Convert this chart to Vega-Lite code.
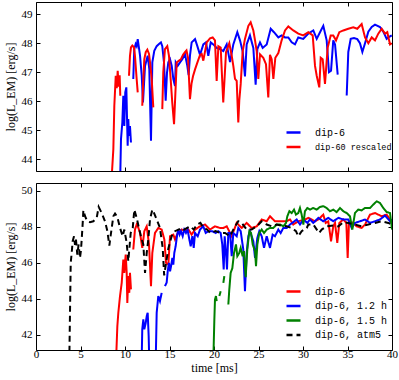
{
"$schema": "https://vega.github.io/schema/vega-lite/v6.json",
"padding": {"left": 3, "top": 1, "right": 1, "bottom": 1},
"config": {
 "font": "Liberation Serif",
 "view": {"stroke": "black", "strokeWidth": 1},
 "axis": {"grid": false, "domain": false, "tickColor": "black", "tickSize": -4, "tickWidth": 1, "labelFont": "Liberation Serif", "labelFontSize": 11, "labelColor": "black", "titleFont": "Liberation Serif", "titleFontSize": 12, "titleFontWeight": "normal", "titleColor": "black", "labelFlush": false, "labelOverlap": false},
 "legend": {"symbolType": "stroke", "symbolSize": 196, "symbolStrokeWidth": 2.5, "labelFont": "Liberation Mono", "labelFontSize": 10, "labelColor": "black", "labelOffset": 13, "rowPadding": 0.5, "padding": 0}
},
"datasets": {
"top": [
{"t":9.44,"v":43.0,"s":"dip-6","g":"b1"},{"t":9.55,"v":44.7,"s":"dip-6","g":"b1"},{"t":9.70,"v":45.27,"s":"dip-6","g":"b1"},{"t":9.81,"v":46.19,"s":"dip-6","g":"b1"},{"t":9.92,"v":45.15,"s":"dip-6","g":"b1"},{"t":10.03,"v":46.31,"s":"dip-6","g":"b1"},{"t":10.15,"v":46.48,"s":"dip-6","g":"b1"},{"t":10.22,"v":45.5,"s":"dip-6","g":"b1"},{"t":10.30,"v":44.47,"s":"dip-6","g":"b1"},{"t":10.37,"v":45.39,"s":"dip-6","g":"b1"},{"t":10.45,"v":44.81,"s":"dip-6","g":"b1"},{"t":10.56,"v":45.15,"s":"dip-6","g":"b1"},{"t":10.67,"v":44.58,"s":"dip-6","g":"b1"},
{"t":10.93,"v":46.77,"s":"dip-6","g":"b2"},{"t":11.04,"v":47.8,"s":"dip-6","g":"b2"},{"t":11.20,"v":47.97,"s":"dip-6","g":"b2"},{"t":11.31,"v":47.9,"s":"dip-6","g":"b2"},{"t":11.43,"v":48.14,"s":"dip-6","g":"b2"},{"t":11.54,"v":47.9,"s":"dip-6","g":"b2"},{"t":11.69,"v":47.57,"s":"dip-6","g":"b2"},{"t":11.88,"v":46.88,"s":"dip-6","g":"b2"},{"t":12.02,"v":45.96,"s":"dip-6","g":"b2"},{"t":12.25,"v":47.22,"s":"dip-6","g":"b2"},{"t":12.55,"v":47.57,"s":"dip-6","g":"b2"},{"t":12.73,"v":47.11,"s":"dip-6","g":"b2"},{"t":12.92,"v":44.64,"s":"dip-6","g":"b2"},{"t":13.07,"v":47.34,"s":"dip-6","g":"b2"},{"t":13.29,"v":47.74,"s":"dip-6","g":"b2"},{"t":13.56,"v":47.9,"s":"dip-6","g":"b2"},{"t":13.82,"v":47.97,"s":"dip-6","g":"b2"},{"t":14.04,"v":48.03,"s":"dip-6","g":"b2"},{"t":14.19,"v":47.9,"s":"dip-6","g":"b2"},{"t":14.38,"v":47.34,"s":"dip-6","g":"b2"},{"t":14.57,"v":46.02,"s":"dip-6","g":"b2"},{"t":14.72,"v":46.99,"s":"dip-6","g":"b2"},{"t":14.87,"v":47.34,"s":"dip-6","g":"b2"},{"t":15.06,"v":47.45,"s":"dip-6","g":"b2"},{"t":15.25,"v":47.22,"s":"dip-6","g":"b2"},{"t":15.43,"v":46.77,"s":"dip-6","g":"b2"},{"t":15.62,"v":46.53,"s":"dip-6","g":"b2"},{"t":15.70,"v":47.34,"s":"dip-6","g":"b2"},{"t":15.92,"v":47.22,"s":"dip-6","g":"b2"},{"t":16.18,"v":47.34,"s":"dip-6","g":"b2"},{"t":16.44,"v":47.45,"s":"dip-6","g":"b2"},{"t":16.74,"v":47.63,"s":"dip-6","g":"b2"},{"t":17.00,"v":47.22,"s":"dip-6","g":"b2"},{"t":17.15,"v":46.9,"s":"dip-6","g":"b2"},{"t":17.30,"v":47.57,"s":"dip-6","g":"b2"},{"t":17.49,"v":48.03,"s":"dip-6","g":"b2"},{"t":17.87,"v":48.14,"s":"dip-6","g":"b2"},{"t":18.12,"v":47.91,"s":"dip-6","g":"b2"},{"t":18.43,"v":47.6,"s":"dip-6","g":"b2"},{"t":18.80,"v":47.96,"s":"dip-6","g":"b2"},{"t":19.10,"v":48.03,"s":"dip-6","g":"b2"},{"t":19.36,"v":47.57,"s":"dip-6","g":"b2"},{"t":19.63,"v":48.03,"s":"dip-6","g":"b2"},{"t":19.92,"v":47.96,"s":"dip-6","g":"b2"},{"t":20.30,"v":47.84,"s":"dip-6","g":"b2"},{"t":20.67,"v":47.8,"s":"dip-6","g":"b2"},{"t":21.05,"v":47.73,"s":"dip-6","g":"b2"},{"t":21.43,"v":47.96,"s":"dip-6","g":"b2"},{"t":21.80,"v":47.35,"s":"dip-6","g":"b2"},{"t":22.17,"v":47.96,"s":"dip-6","g":"b2"},{"t":22.62,"v":48.38,"s":"dip-6","g":"b2"},{"t":22.92,"v":48.1,"s":"dip-6","g":"b2"},{"t":23.22,"v":47.72,"s":"dip-6","g":"b2"},{"t":23.48,"v":46.86,"s":"dip-6","g":"b2"},{"t":23.67,"v":47.96,"s":"dip-6","g":"b2"},{"t":24.04,"v":48.27,"s":"dip-6","g":"b2"},{"t":24.42,"v":47.84,"s":"dip-6","g":"b2"},{"t":24.68,"v":46.57,"s":"dip-6","g":"b2"},{"t":24.87,"v":47.8,"s":"dip-6","g":"b2"},{"t":25.17,"v":48.03,"s":"dip-6","g":"b2"},{"t":25.47,"v":47.84,"s":"dip-6","g":"b2"},{"t":25.92,"v":47.96,"s":"dip-6","g":"b2"},{"t":26.37,"v":48.5,"s":"dip-6","g":"b2"},{"t":26.74,"v":48.38,"s":"dip-6","g":"b2"},{"t":27.23,"v":48.2,"s":"dip-6","g":"b2"},{"t":27.60,"v":48.27,"s":"dip-6","g":"b2"},{"t":27.98,"v":48.2,"s":"dip-6","g":"b2"},{"t":28.35,"v":48.2,"s":"dip-6","g":"b2"},{"t":28.73,"v":48.03,"s":"dip-6","g":"b2"},{"t":29.10,"v":47.96,"s":"dip-6","g":"b2"},{"t":29.47,"v":48.2,"s":"dip-6","g":"b2"},{"t":30.03,"v":48.15,"s":"dip-6","g":"b2"},{"t":30.60,"v":48.33,"s":"dip-6","g":"b2"},{"t":31.16,"v":48.44,"s":"dip-6","g":"b2"},{"t":31.54,"v":48.15,"s":"dip-6","g":"b2"},{"t":31.91,"v":48.38,"s":"dip-6","g":"b2"},{"t":32.28,"v":48.6,"s":"dip-6","g":"b2"},{"t":32.66,"v":48.1,"s":"dip-6","g":"b2"},{"t":32.92,"v":47.0,"s":"dip-6","g":"b2"},{"t":33.15,"v":47.05,"s":"dip-6","g":"b2"},{"t":33.40,"v":48.1,"s":"dip-6","g":"b2"},{"t":33.60,"v":47.96,"s":"dip-6","g":"b2"},{"t":33.90,"v":46.92,"s":"dip-6","g":"b2"},
{"t":34.91,"v":46.2,"s":"dip-6","g":"b3"},{"t":35.09,"v":47.7,"s":"dip-6","g":"b3"},{"t":35.36,"v":48.15,"s":"dip-6","g":"b3"},{"t":35.73,"v":48.18,"s":"dip-6","g":"b3"},{"t":36.10,"v":48.14,"s":"dip-6","g":"b3"},{"t":36.40,"v":48.0,"s":"dip-6","g":"b3"},{"t":36.67,"v":47.7,"s":"dip-6","g":"b3"},{"t":36.97,"v":48.0,"s":"dip-6","g":"b3"},{"t":37.34,"v":48.4,"s":"dip-6","g":"b3"},{"t":37.72,"v":48.56,"s":"dip-6","g":"b3"},{"t":38.09,"v":48.64,"s":"dip-6","g":"b3"},{"t":38.65,"v":48.56,"s":"dip-6","g":"b3"},{"t":39.02,"v":48.4,"s":"dip-6","g":"b3"},{"t":39.40,"v":48.15,"s":"dip-6","g":"b3"},{"t":39.58,"v":48.2,"s":"dip-6","g":"b3"},{"t":39.97,"v":48.27,"s":"dip-6","g":"b3"},
{"t":8.43,"v":43.0,"s":"dip-60 rescaled","g":"r1"},{"t":8.69,"v":44.35,"s":"dip-60 rescaled","g":"r1"},{"t":8.80,"v":45.85,"s":"dip-60 rescaled","g":"r1"},{"t":8.96,"v":46.88,"s":"dip-60 rescaled","g":"r1"},{"t":9.07,"v":46.45,"s":"dip-60 rescaled","g":"r1"},{"t":9.18,"v":47.05,"s":"dip-60 rescaled","g":"r1"},{"t":9.29,"v":46.5,"s":"dip-60 rescaled","g":"r1"},{"t":9.40,"v":46.9,"s":"dip-60 rescaled","g":"r1"},{"t":9.47,"v":46.19,"s":"dip-60 rescaled","g":"r1"},
{"t":10.45,"v":46.88,"s":"dip-60 rescaled","g":"r2"},{"t":10.56,"v":47.57,"s":"dip-60 rescaled","g":"r2"},{"t":10.67,"v":47.86,"s":"dip-60 rescaled","g":"r2"},{"t":10.82,"v":47.92,"s":"dip-60 rescaled","g":"r2"},{"t":11.01,"v":47.86,"s":"dip-60 rescaled","g":"r2"},{"t":11.12,"v":47.57,"s":"dip-60 rescaled","g":"r2"},{"t":11.31,"v":46.77,"s":"dip-60 rescaled","g":"r2"},{"t":11.43,"v":46.31,"s":"dip-60 rescaled","g":"r2"},
{"t":11.94,"v":45.85,"s":"dip-60 rescaled","g":"r3"},{"t":12.06,"v":46.77,"s":"dip-60 rescaled","g":"r3"},{"t":12.17,"v":47.45,"s":"dip-60 rescaled","g":"r3"},{"t":12.33,"v":47.69,"s":"dip-60 rescaled","g":"r3"},{"t":12.51,"v":47.78,"s":"dip-60 rescaled","g":"r3"},{"t":12.70,"v":47.63,"s":"dip-60 rescaled","g":"r3"},{"t":12.81,"v":47.34,"s":"dip-60 rescaled","g":"r3"},{"t":13.00,"v":46.77,"s":"dip-60 rescaled","g":"r3"},{"t":13.18,"v":45.79,"s":"dip-60 rescaled","g":"r3"},
{"t":14.19,"v":45.73,"s":"dip-60 rescaled","g":"r4"},{"t":14.30,"v":47.0,"s":"dip-60 rescaled","g":"r4"},{"t":14.49,"v":47.8,"s":"dip-60 rescaled","g":"r4"},{"t":14.75,"v":47.9,"s":"dip-60 rescaled","g":"r4"},{"t":14.94,"v":47.57,"s":"dip-60 rescaled","g":"r4"},{"t":15.13,"v":46.77,"s":"dip-60 rescaled","g":"r4"},{"t":15.31,"v":45.96,"s":"dip-60 rescaled","g":"r4"},{"t":15.51,"v":45.21,"s":"dip-60 rescaled","g":"r4"},{"t":15.81,"v":47.34,"s":"dip-60 rescaled","g":"r4"},{"t":16.07,"v":47.4,"s":"dip-60 rescaled","g":"r4"},{"t":16.29,"v":47.45,"s":"dip-60 rescaled","g":"r4"},{"t":16.52,"v":47.6,"s":"dip-60 rescaled","g":"r4"},{"t":16.74,"v":47.69,"s":"dip-60 rescaled","g":"r4"},{"t":16.91,"v":47.75,"s":"dip-60 rescaled","g":"r4"},{"t":17.08,"v":47.5,"s":"dip-60 rescaled","g":"r4"},{"t":17.30,"v":46.07,"s":"dip-60 rescaled","g":"r4"},{"t":17.47,"v":46.6,"s":"dip-60 rescaled","g":"r4"},{"t":17.64,"v":46.86,"s":"dip-60 rescaled","g":"r4"},{"t":17.87,"v":47.1,"s":"dip-60 rescaled","g":"r4"},{"t":18.09,"v":47.3,"s":"dip-60 rescaled","g":"r4"},{"t":18.43,"v":47.6,"s":"dip-60 rescaled","g":"r4"},{"t":18.62,"v":47.63,"s":"dip-60 rescaled","g":"r4"},{"t":18.80,"v":47.4,"s":"dip-60 rescaled","g":"r4"},{"t":19.18,"v":48.03,"s":"dip-60 rescaled","g":"r4"},{"t":19.55,"v":48.17,"s":"dip-60 rescaled","g":"r4"},{"t":19.85,"v":48.2,"s":"dip-60 rescaled","g":"r4"},{"t":20.11,"v":48.1,"s":"dip-60 rescaled","g":"r4"},{"t":20.30,"v":46.7,"s":"dip-60 rescaled","g":"r4"},{"t":20.49,"v":47.9,"s":"dip-60 rescaled","g":"r4"},{"t":20.75,"v":47.85,"s":"dip-60 rescaled","g":"r4"},{"t":21.04,"v":45.96,"s":"dip-60 rescaled","g":"r4"},{"t":21.35,"v":47.69,"s":"dip-60 rescaled","g":"r4"},{"t":21.72,"v":48.0,"s":"dip-60 rescaled","g":"r4"},{"t":21.99,"v":47.57,"s":"dip-60 rescaled","g":"r4"},{"t":22.17,"v":47.22,"s":"dip-60 rescaled","g":"r4"},{"t":22.36,"v":46.77,"s":"dip-60 rescaled","g":"r4"},{"t":22.55,"v":46.7,"s":"dip-60 rescaled","g":"r4"},{"t":22.73,"v":45.27,"s":"dip-60 rescaled","g":"r4"},{"t":22.84,"v":46.02,"s":"dip-60 rescaled","g":"r4"},{"t":23.00,"v":46.6,"s":"dip-60 rescaled","g":"r4"},{"t":23.22,"v":47.72,"s":"dip-60 rescaled","g":"r4"},{"t":23.48,"v":48.15,"s":"dip-60 rescaled","g":"r4"},{"t":23.86,"v":48.6,"s":"dip-60 rescaled","g":"r4"},{"t":24.12,"v":48.72,"s":"dip-60 rescaled","g":"r4"},{"t":24.42,"v":48.44,"s":"dip-60 rescaled","g":"r4"},{"t":24.61,"v":48.1,"s":"dip-60 rescaled","g":"r4"},{"t":24.80,"v":47.72,"s":"dip-60 rescaled","g":"r4"},{"t":24.98,"v":46.77,"s":"dip-60 rescaled","g":"r4"},{"t":25.17,"v":47.62,"s":"dip-60 rescaled","g":"r4"},{"t":25.54,"v":47.5,"s":"dip-60 rescaled","g":"r4"},{"t":25.84,"v":47.28,"s":"dip-60 rescaled","g":"r4"},{"t":26.10,"v":46.13,"s":"dip-60 rescaled","g":"r4"},{"t":26.29,"v":47.6,"s":"dip-60 rescaled","g":"r4"},{"t":26.48,"v":47.45,"s":"dip-60 rescaled","g":"r4"},{"t":26.67,"v":46.77,"s":"dip-60 rescaled","g":"r4"},{"t":26.89,"v":47.5,"s":"dip-60 rescaled","g":"r4"},{"t":27.23,"v":47.66,"s":"dip-60 rescaled","g":"r4"},{"t":27.60,"v":48.1,"s":"dip-60 rescaled","g":"r4"},{"t":27.98,"v":48.44,"s":"dip-60 rescaled","g":"r4"},{"t":28.35,"v":48.58,"s":"dip-60 rescaled","g":"r4"},{"t":28.91,"v":48.44,"s":"dip-60 rescaled","g":"r4"},{"t":29.47,"v":48.33,"s":"dip-60 rescaled","g":"r4"},{"t":30.03,"v":48.27,"s":"dip-60 rescaled","g":"r4"},{"t":30.60,"v":48.38,"s":"dip-60 rescaled","g":"r4"},{"t":31.09,"v":48.27,"s":"dip-60 rescaled","g":"r4"},{"t":31.35,"v":47.22,"s":"dip-60 rescaled","g":"r4"},{"t":31.54,"v":46.88,"s":"dip-60 rescaled","g":"r4"},{"t":31.83,"v":46.48,"s":"dip-60 rescaled","g":"r4"},{"t":31.99,"v":47.5,"s":"dip-60 rescaled","g":"r4"},{"t":32.21,"v":47.45,"s":"dip-60 rescaled","g":"r4"},{"t":32.47,"v":46.6,"s":"dip-60 rescaled","g":"r4"},{"t":32.77,"v":47.84,"s":"dip-60 rescaled","g":"r4"},{"t":33.11,"v":48.27,"s":"dip-60 rescaled","g":"r4"},{"t":33.40,"v":48.27,"s":"dip-60 rescaled","g":"r4"},{"t":33.71,"v":48.1,"s":"dip-60 rescaled","g":"r4"},{"t":34.08,"v":48.38,"s":"dip-60 rescaled","g":"r4"},{"t":34.53,"v":48.44,"s":"dip-60 rescaled","g":"r4"},{"t":35.09,"v":48.5,"s":"dip-60 rescaled","g":"r4"},{"t":35.65,"v":48.55,"s":"dip-60 rescaled","g":"r4"},{"t":36.10,"v":48.5,"s":"dip-60 rescaled","g":"r4"},{"t":36.59,"v":48.66,"s":"dip-60 rescaled","g":"r4"},{"t":36.97,"v":48.2,"s":"dip-60 rescaled","g":"r4"},{"t":37.34,"v":48.0,"s":"dip-60 rescaled","g":"r4"},{"t":37.72,"v":48.2,"s":"dip-60 rescaled","g":"r4"},{"t":38.09,"v":48.1,"s":"dip-60 rescaled","g":"r4"},{"t":38.46,"v":48.33,"s":"dip-60 rescaled","g":"r4"},{"t":38.84,"v":48.5,"s":"dip-60 rescaled","g":"r4"},{"t":39.21,"v":48.33,"s":"dip-60 rescaled","g":"r4"},{"t":39.47,"v":48.38,"s":"dip-60 rescaled","g":"r4"},{"t":39.78,"v":47.96,"s":"dip-60 rescaled","g":"r4"},{"t":39.97,"v":48.0,"s":"dip-60 rescaled","g":"r4"}
],
"bot": [
{"t":8.99,"v":40.5,"s":"dip-6","g":"r1"},{"t":9.14,"v":42.48,"s":"dip-6","g":"r1"},{"t":9.25,"v":43.22,"s":"dip-6","g":"r1"},{"t":9.44,"v":44.15,"s":"dip-6","g":"r1"},{"t":9.63,"v":44.88,"s":"dip-6","g":"r1"},{"t":9.81,"v":46.18,"s":"dip-6","g":"r1"},{"t":9.92,"v":45.44,"s":"dip-6","g":"r1"},{"t":10.08,"v":46.46,"s":"dip-6","g":"r1"},{"t":10.19,"v":45.44,"s":"dip-6","g":"r1"},{"t":10.26,"v":43.77,"s":"dip-6","g":"r1"},{"t":10.37,"v":45.26,"s":"dip-6","g":"r1"},{"t":10.48,"v":44.33,"s":"dip-6","g":"r1"},{"t":10.56,"v":45.44,"s":"dip-6","g":"r1"},{"t":10.67,"v":44.52,"s":"dip-6","g":"r1"},
{"t":10.93,"v":46.74,"s":"dip-6","g":"r2"},{"t":11.12,"v":47.85,"s":"dip-6","g":"r2"},{"t":11.31,"v":48.13,"s":"dip-6","g":"r2"},{"t":11.50,"v":47.95,"s":"dip-6","g":"r2"},{"t":11.69,"v":47.66,"s":"dip-6","g":"r2"},{"t":11.94,"v":46.83,"s":"dip-6","g":"r2"},{"t":12.17,"v":47.76,"s":"dip-6","g":"r2"},{"t":12.44,"v":48.03,"s":"dip-6","g":"r2"},{"t":12.70,"v":47.02,"s":"dip-6","g":"r2"},{"t":12.92,"v":44.7,"s":"dip-6","g":"r2"},{"t":13.07,"v":46.55,"s":"dip-6","g":"r2"},{"t":13.37,"v":47.66,"s":"dip-6","g":"r2"},{"t":13.74,"v":47.94,"s":"dip-6","g":"r2"},{"t":14.12,"v":47.85,"s":"dip-6","g":"r2"},{"t":14.42,"v":47.3,"s":"dip-6","g":"r2"},{"t":14.61,"v":46.0,"s":"dip-6","g":"r2"},{"t":14.87,"v":45.9,"s":"dip-6","g":"r2"},{"t":15.06,"v":47.48,"s":"dip-6","g":"r2"},{"t":15.43,"v":47.57,"s":"dip-6","g":"r2"},{"t":15.62,"v":47.3,"s":"dip-6","g":"r2"},{"t":15.92,"v":47.66,"s":"dip-6","g":"r2"},{"t":16.37,"v":47.85,"s":"dip-6","g":"r2"},{"t":16.74,"v":47.76,"s":"dip-6","g":"r2"},{"t":17.12,"v":47.85,"s":"dip-6","g":"r2"},{"t":17.49,"v":47.57,"s":"dip-6","g":"r2"},{"t":17.87,"v":47.85,"s":"dip-6","g":"r2"},{"t":18.43,"v":48.03,"s":"dip-6","g":"r2"},{"t":18.99,"v":48.13,"s":"dip-6","g":"r2"},{"t":19.55,"v":47.85,"s":"dip-6","g":"r2"},{"t":20.11,"v":48.03,"s":"dip-6","g":"r2"},{"t":20.67,"v":47.94,"s":"dip-6","g":"r2"},{"t":21.05,"v":47.94,"s":"dip-6","g":"r2"},{"t":21.43,"v":48.03,"s":"dip-6","g":"r2"},{"t":21.99,"v":47.48,"s":"dip-6","g":"r2"},{"t":22.55,"v":48.22,"s":"dip-6","g":"r2"},{"t":23.11,"v":47.94,"s":"dip-6","g":"r2"},{"t":23.67,"v":48.22,"s":"dip-6","g":"r2"},{"t":24.23,"v":47.94,"s":"dip-6","g":"r2"},{"t":24.80,"v":48.03,"s":"dip-6","g":"r2"},{"t":25.36,"v":48.41,"s":"dip-6","g":"r2"},{"t":25.92,"v":48.31,"s":"dip-6","g":"r2"},{"t":26.29,"v":48.59,"s":"dip-6","g":"r2"},{"t":26.85,"v":48.31,"s":"dip-6","g":"r2"},{"t":27.42,"v":48.31,"s":"dip-6","g":"r2"},{"t":28.17,"v":48.31,"s":"dip-6","g":"r2"},{"t":28.54,"v":48.41,"s":"dip-6","g":"r2"},{"t":28.91,"v":48.13,"s":"dip-6","g":"r2"},{"t":29.47,"v":48.31,"s":"dip-6","g":"r2"},{"t":30.22,"v":48.41,"s":"dip-6","g":"r2"},{"t":30.60,"v":48.5,"s":"dip-6","g":"r2"},{"t":30.98,"v":48.41,"s":"dip-6","g":"r2"},{"t":31.35,"v":48.31,"s":"dip-6","g":"r2"},{"t":31.72,"v":48.41,"s":"dip-6","g":"r2"},{"t":32.28,"v":48.68,"s":"dip-6","g":"r2"},{"t":32.55,"v":48.22,"s":"dip-6","g":"r2"},{"t":32.84,"v":48.31,"s":"dip-6","g":"r2"},{"t":33.15,"v":47.2,"s":"dip-6","g":"r2"},{"t":33.40,"v":48.03,"s":"dip-6","g":"r2"},{"t":33.60,"v":48.22,"s":"dip-6","g":"r2"},{"t":33.85,"v":47.11,"s":"dip-6","g":"r2"},{"t":34.08,"v":48.22,"s":"dip-6","g":"r2"},{"t":34.53,"v":48.41,"s":"dip-6","g":"r2"},{"t":34.87,"v":48.22,"s":"dip-6","g":"r2"},{"t":35.02,"v":46.27,"s":"dip-6","g":"r2"},{"t":35.17,"v":48.31,"s":"dip-6","g":"r2"},{"t":35.65,"v":48.22,"s":"dip-6","g":"r2"},{"t":36.03,"v":48.03,"s":"dip-6","g":"r2"},{"t":36.59,"v":47.94,"s":"dip-6","g":"r2"},{"t":36.97,"v":48.13,"s":"dip-6","g":"r2"},{"t":37.53,"v":48.68,"s":"dip-6","g":"r2"},{"t":38.09,"v":48.77,"s":"dip-6","g":"r2"},{"t":38.84,"v":48.59,"s":"dip-6","g":"r2"},{"t":39.40,"v":48.68,"s":"dip-6","g":"r2"},{"t":39.78,"v":48.41,"s":"dip-6","g":"r2"},{"t":40.00,"v":48.31,"s":"dip-6","g":"r2"},
{"t":11.87,"v":40.5,"s":"dip-6, 1.2 h","g":"b1"},{"t":11.94,"v":42.3,"s":"dip-6, 1.2 h","g":"b1"},{"t":12.06,"v":42.85,"s":"dip-6, 1.2 h","g":"b1"},{"t":12.17,"v":42.3,"s":"dip-6, 1.2 h","g":"b1"},{"t":12.33,"v":42.66,"s":"dip-6, 1.2 h","g":"b1"},{"t":12.44,"v":43.03,"s":"dip-6, 1.2 h","g":"b1"},{"t":12.55,"v":43.22,"s":"dip-6, 1.2 h","g":"b1"},{"t":12.66,"v":41.92,"s":"dip-6, 1.2 h","g":"b1"},{"t":12.73,"v":40.5,"s":"dip-6, 1.2 h","g":"b1"},
{"t":13.45,"v":40.5,"s":"dip-6, 1.2 h","g":"b2"},{"t":13.56,"v":43.22,"s":"dip-6, 1.2 h","g":"b2"},{"t":13.74,"v":44.15,"s":"dip-6, 1.2 h","g":"b2"},{"t":13.93,"v":43.87,"s":"dip-6, 1.2 h","g":"b2"},{"t":14.12,"v":44.33,"s":"dip-6, 1.2 h","g":"b2"},
{"t":14.49,"v":44.7,"s":"dip-6, 1.2 h","g":"b3"},{"t":14.68,"v":44.9,"s":"dip-6, 1.2 h","g":"b3"},{"t":14.80,"v":45.53,"s":"dip-6, 1.2 h","g":"b3"},{"t":14.94,"v":46.0,"s":"dip-6, 1.2 h","g":"b3"},{"t":15.06,"v":45.53,"s":"dip-6, 1.2 h","g":"b3"},{"t":15.17,"v":45.8,"s":"dip-6, 1.2 h","g":"b3"},{"t":15.32,"v":46.27,"s":"dip-6, 1.2 h","g":"b3"},{"t":15.43,"v":45.9,"s":"dip-6, 1.2 h","g":"b3"},{"t":15.54,"v":46.55,"s":"dip-6, 1.2 h","g":"b3"},{"t":15.69,"v":46.92,"s":"dip-6, 1.2 h","g":"b3"},{"t":15.84,"v":47.48,"s":"dip-6, 1.2 h","g":"b3"},{"t":15.99,"v":47.85,"s":"dip-6, 1.2 h","g":"b3"},{"t":16.14,"v":47.57,"s":"dip-6, 1.2 h","g":"b3"},{"t":16.29,"v":47.76,"s":"dip-6, 1.2 h","g":"b3"},{"t":16.48,"v":47.48,"s":"dip-6, 1.2 h","g":"b3"},{"t":16.66,"v":47.85,"s":"dip-6, 1.2 h","g":"b3"},{"t":16.85,"v":47.66,"s":"dip-6, 1.2 h","g":"b3"},{"t":17.03,"v":47.85,"s":"dip-6, 1.2 h","g":"b3"},{"t":17.23,"v":47.3,"s":"dip-6, 1.2 h","g":"b3"},{"t":17.38,"v":46.92,"s":"dip-6, 1.2 h","g":"b3"},{"t":17.57,"v":47.48,"s":"dip-6, 1.2 h","g":"b3"},{"t":17.72,"v":46.83,"s":"dip-6, 1.2 h","g":"b3"},{"t":17.87,"v":47.66,"s":"dip-6, 1.2 h","g":"b3"},{"t":18.17,"v":47.48,"s":"dip-6, 1.2 h","g":"b3"},{"t":18.43,"v":47.85,"s":"dip-6, 1.2 h","g":"b3"},{"t":18.80,"v":48.03,"s":"dip-6, 1.2 h","g":"b3"},{"t":19.07,"v":47.66,"s":"dip-6, 1.2 h","g":"b3"},{"t":19.36,"v":47.76,"s":"dip-6, 1.2 h","g":"b3"},{"t":19.81,"v":47.76,"s":"dip-6, 1.2 h","g":"b3"},{"t":20.19,"v":47.66,"s":"dip-6, 1.2 h","g":"b3"},{"t":20.49,"v":47.76,"s":"dip-6, 1.2 h","g":"b3"},{"t":20.75,"v":47.66,"s":"dip-6, 1.2 h","g":"b3"},{"t":20.93,"v":47.02,"s":"dip-6, 1.2 h","g":"b3"},{"t":21.09,"v":45.63,"s":"dip-6, 1.2 h","g":"b3"},{"t":21.20,"v":47.48,"s":"dip-6, 1.2 h","g":"b3"},{"t":21.35,"v":46.55,"s":"dip-6, 1.2 h","g":"b3"},{"t":21.46,"v":45.63,"s":"dip-6, 1.2 h","g":"b3"},{"t":21.61,"v":47.66,"s":"dip-6, 1.2 h","g":"b3"},{"t":21.80,"v":47.66,"s":"dip-6, 1.2 h","g":"b3"},{"t":21.99,"v":46.37,"s":"dip-6, 1.2 h","g":"b3"},{"t":22.17,"v":47.66,"s":"dip-6, 1.2 h","g":"b3"},{"t":22.55,"v":47.48,"s":"dip-6, 1.2 h","g":"b3"},{"t":22.73,"v":47.94,"s":"dip-6, 1.2 h","g":"b3"},{"t":23.00,"v":47.76,"s":"dip-6, 1.2 h","g":"b3"},{"t":23.29,"v":46.74,"s":"dip-6, 1.2 h","g":"b3"},{"t":23.48,"v":44.42,"s":"dip-6, 1.2 h","g":"b3"},{"t":23.67,"v":46.55,"s":"dip-6, 1.2 h","g":"b3"},{"t":23.86,"v":47.48,"s":"dip-6, 1.2 h","g":"b3"},{"t":24.04,"v":47.76,"s":"dip-6, 1.2 h","g":"b3"},{"t":24.42,"v":47.2,"s":"dip-6, 1.2 h","g":"b3"},{"t":24.61,"v":46.27,"s":"dip-6, 1.2 h","g":"b3"},{"t":24.87,"v":47.39,"s":"dip-6, 1.2 h","g":"b3"},{"t":25.09,"v":47.76,"s":"dip-6, 1.2 h","g":"b3"},{"t":25.36,"v":47.48,"s":"dip-6, 1.2 h","g":"b3"},{"t":25.62,"v":46.83,"s":"dip-6, 1.2 h","g":"b3"},{"t":25.92,"v":47.48,"s":"dip-6, 1.2 h","g":"b3"},{"t":26.29,"v":46.83,"s":"dip-6, 1.2 h","g":"b3"},{"t":26.59,"v":47.57,"s":"dip-6, 1.2 h","g":"b3"},{"t":26.85,"v":47.48,"s":"dip-6, 1.2 h","g":"b3"},{"t":27.23,"v":47.85,"s":"dip-6, 1.2 h","g":"b3"},{"t":27.49,"v":47.66,"s":"dip-6, 1.2 h","g":"b3"},{"t":27.79,"v":47.94,"s":"dip-6, 1.2 h","g":"b3"},{"t":28.17,"v":47.94,"s":"dip-6, 1.2 h","g":"b3"},{"t":28.54,"v":48.13,"s":"dip-6, 1.2 h","g":"b3"},{"t":28.91,"v":48.26,"s":"dip-6, 1.2 h","g":"b3"},{"t":29.29,"v":48.41,"s":"dip-6, 1.2 h","g":"b3"},{"t":29.66,"v":48.13,"s":"dip-6, 1.2 h","g":"b3"},{"t":30.04,"v":48.41,"s":"dip-6, 1.2 h","g":"b3"},{"t":30.49,"v":48.22,"s":"dip-6, 1.2 h","g":"b3"},{"t":30.79,"v":48.41,"s":"dip-6, 1.2 h","g":"b3"},{"t":31.16,"v":48.22,"s":"dip-6, 1.2 h","g":"b3"},{"t":31.72,"v":48.5,"s":"dip-6, 1.2 h","g":"b3"},{"t":32.28,"v":48.31,"s":"dip-6, 1.2 h","g":"b3"},{"t":32.84,"v":48.5,"s":"dip-6, 1.2 h","g":"b3"},{"t":33.40,"v":48.31,"s":"dip-6, 1.2 h","g":"b3"},{"t":33.97,"v":48.5,"s":"dip-6, 1.2 h","g":"b3"},{"t":34.53,"v":48.41,"s":"dip-6, 1.2 h","g":"b3"},{"t":35.09,"v":48.41,"s":"dip-6, 1.2 h","g":"b3"},{"t":35.47,"v":47.94,"s":"dip-6, 1.2 h","g":"b3"},{"t":35.84,"v":48.22,"s":"dip-6, 1.2 h","g":"b3"},{"t":36.40,"v":48.31,"s":"dip-6, 1.2 h","g":"b3"},{"t":36.97,"v":48.41,"s":"dip-6, 1.2 h","g":"b3"},{"t":37.53,"v":48.22,"s":"dip-6, 1.2 h","g":"b3"},{"t":38.09,"v":48.31,"s":"dip-6, 1.2 h","g":"b3"},{"t":38.65,"v":48.41,"s":"dip-6, 1.2 h","g":"b3"},{"t":39.21,"v":48.63,"s":"dip-6, 1.2 h","g":"b3"},{"t":39.78,"v":48.31,"s":"dip-6, 1.2 h","g":"b3"},{"t":40.00,"v":48.41,"s":"dip-6, 1.2 h","g":"b3"},
{"t":19.92,"v":40.5,"s":"dip-6, 1.5 h","g":"g1"},{"t":20.04,"v":42.85,"s":"dip-6, 1.5 h","g":"g1"},{"t":20.11,"v":43.96,"s":"dip-6, 1.5 h","g":"g1"},{"t":20.22,"v":44.15,"s":"dip-6, 1.5 h","g":"g1"},{"t":20.30,"v":43.87,"s":"dip-6, 1.5 h","g":"g1"},
{"t":20.60,"v":44.15,"s":"dip-6, 1.5 h","g":"g2"},{"t":20.75,"v":44.42,"s":"dip-6, 1.5 h","g":"g2"},
{"t":21.05,"v":44.88,"s":"dip-6, 1.5 h","g":"g3"},{"t":21.16,"v":45.26,"s":"dip-6, 1.5 h","g":"g3"},
{"t":21.61,"v":43.68,"s":"dip-6, 1.5 h","g":"g4"},{"t":21.72,"v":44.52,"s":"dip-6, 1.5 h","g":"g4"},{"t":21.87,"v":45.44,"s":"dip-6, 1.5 h","g":"g4"},{"t":22.06,"v":45.7,"s":"dip-6, 1.5 h","g":"g4"},{"t":22.25,"v":46.55,"s":"dip-6, 1.5 h","g":"g4"},{"t":22.47,"v":47.02,"s":"dip-6, 1.5 h","g":"g4"},{"t":22.62,"v":46.37,"s":"dip-6, 1.5 h","g":"g4"},{"t":22.84,"v":46.55,"s":"dip-6, 1.5 h","g":"g4"},{"t":23.00,"v":46.83,"s":"dip-6, 1.5 h","g":"g4"},{"t":23.22,"v":46.37,"s":"dip-6, 1.5 h","g":"g4"},{"t":23.37,"v":46.65,"s":"dip-6, 1.5 h","g":"g4"},{"t":23.56,"v":45.2,"s":"dip-6, 1.5 h","g":"g4"},{"t":23.74,"v":46.74,"s":"dip-6, 1.5 h","g":"g4"},{"t":23.97,"v":47.76,"s":"dip-6, 1.5 h","g":"g4"},{"t":24.16,"v":47.66,"s":"dip-6, 1.5 h","g":"g4"},{"t":24.35,"v":47.02,"s":"dip-6, 1.5 h","g":"g4"},{"t":24.61,"v":46.65,"s":"dip-6, 1.5 h","g":"g4"},{"t":24.72,"v":45.81,"s":"dip-6, 1.5 h","g":"g4"},{"t":24.87,"v":47.02,"s":"dip-6, 1.5 h","g":"g4"},{"t":25.09,"v":47.66,"s":"dip-6, 1.5 h","g":"g4"},{"t":25.36,"v":47.85,"s":"dip-6, 1.5 h","g":"g4"},{"t":25.62,"v":47.66,"s":"dip-6, 1.5 h","g":"g4"},{"t":25.92,"v":47.85,"s":"dip-6, 1.5 h","g":"g4"},{"t":26.29,"v":47.94,"s":"dip-6, 1.5 h","g":"g4"},{"t":26.67,"v":47.94,"s":"dip-6, 1.5 h","g":"g4"},{"t":27.04,"v":48.13,"s":"dip-6, 1.5 h","g":"g4"},{"t":27.42,"v":48.13,"s":"dip-6, 1.5 h","g":"g4"},{"t":27.79,"v":48.03,"s":"dip-6, 1.5 h","g":"g4"},{"t":28.09,"v":48.22,"s":"dip-6, 1.5 h","g":"g4"},{"t":28.24,"v":48.59,"s":"dip-6, 1.5 h","g":"g4"},{"t":28.47,"v":48.87,"s":"dip-6, 1.5 h","g":"g4"},{"t":28.73,"v":48.77,"s":"dip-6, 1.5 h","g":"g4"},{"t":28.99,"v":48.96,"s":"dip-6, 1.5 h","g":"g4"},{"t":29.21,"v":48.68,"s":"dip-6, 1.5 h","g":"g4"},{"t":29.47,"v":48.77,"s":"dip-6, 1.5 h","g":"g4"},{"t":29.66,"v":49.05,"s":"dip-6, 1.5 h","g":"g4"},{"t":29.85,"v":48.68,"s":"dip-6, 1.5 h","g":"g4"},{"t":30.04,"v":48.13,"s":"dip-6, 1.5 h","g":"g4"},{"t":30.22,"v":48.87,"s":"dip-6, 1.5 h","g":"g4"},{"t":30.49,"v":49.05,"s":"dip-6, 1.5 h","g":"g4"},{"t":30.79,"v":48.96,"s":"dip-6, 1.5 h","g":"g4"},{"t":31.16,"v":49.05,"s":"dip-6, 1.5 h","g":"g4"},{"t":31.54,"v":48.96,"s":"dip-6, 1.5 h","g":"g4"},{"t":31.91,"v":49.11,"s":"dip-6, 1.5 h","g":"g4"},{"t":32.28,"v":49.15,"s":"dip-6, 1.5 h","g":"g4"},{"t":32.66,"v":49.05,"s":"dip-6, 1.5 h","g":"g4"},{"t":33.03,"v":48.87,"s":"dip-6, 1.5 h","g":"g4"},{"t":33.40,"v":48.96,"s":"dip-6, 1.5 h","g":"g4"},{"t":33.78,"v":48.82,"s":"dip-6, 1.5 h","g":"g4"},{"t":34.16,"v":49.05,"s":"dip-6, 1.5 h","g":"g4"},{"t":34.53,"v":48.87,"s":"dip-6, 1.5 h","g":"g4"},{"t":34.91,"v":48.77,"s":"dip-6, 1.5 h","g":"g4"},{"t":35.28,"v":48.59,"s":"dip-6, 1.5 h","g":"g4"},{"t":35.54,"v":47.85,"s":"dip-6, 1.5 h","g":"g4"},{"t":35.84,"v":48.77,"s":"dip-6, 1.5 h","g":"g4"},{"t":36.21,"v":48.96,"s":"dip-6, 1.5 h","g":"g4"},{"t":36.59,"v":48.92,"s":"dip-6, 1.5 h","g":"g4"},{"t":36.97,"v":49.05,"s":"dip-6, 1.5 h","g":"g4"},{"t":37.53,"v":49.05,"s":"dip-6, 1.5 h","g":"g4"},{"t":37.90,"v":49.24,"s":"dip-6, 1.5 h","g":"g4"},{"t":38.28,"v":49.42,"s":"dip-6, 1.5 h","g":"g4"},{"t":38.65,"v":49.33,"s":"dip-6, 1.5 h","g":"g4"},{"t":39.02,"v":49.05,"s":"dip-6, 1.5 h","g":"g4"},{"t":39.40,"v":48.82,"s":"dip-6, 1.5 h","g":"g4"},{"t":39.78,"v":48.77,"s":"dip-6, 1.5 h","g":"g4"},{"t":40.00,"v":47.85,"s":"dip-6, 1.5 h","g":"g4"},
{"t":3.74,"v":40.5,"s":"dip-6, atm5","g":"k1"},{"t":3.82,"v":43.22,"s":"dip-6, atm5","g":"k1"},{"t":3.90,"v":46.0,"s":"dip-6, atm5","g":"k1"},{"t":4.01,"v":46.55,"s":"dip-6, atm5","g":"k1"},{"t":4.12,"v":47.2,"s":"dip-6, atm5","g":"k1"},{"t":4.27,"v":47.48,"s":"dip-6, atm5","g":"k1"},{"t":4.38,"v":47.0,"s":"dip-6, atm5","g":"k1"},{"t":4.49,"v":47.3,"s":"dip-6, atm5","g":"k1"},{"t":4.64,"v":46.46,"s":"dip-6, atm5","g":"k1"},{"t":4.79,"v":47.02,"s":"dip-6, atm5","g":"k1"},{"t":4.94,"v":46.27,"s":"dip-6, atm5","g":"k1"},{"t":5.06,"v":46.73,"s":"dip-6, atm5","g":"k1"},{"t":5.25,"v":48.22,"s":"dip-6, atm5","g":"k1"},{"t":5.32,"v":48.92,"s":"dip-6, atm5","g":"k1"},{"t":5.51,"v":48.59,"s":"dip-6, atm5","g":"k1"},{"t":5.77,"v":48.31,"s":"dip-6, atm5","g":"k1"},{"t":6.07,"v":48.26,"s":"dip-6, atm5","g":"k1"},{"t":6.44,"v":48.31,"s":"dip-6, atm5","g":"k1"},{"t":6.82,"v":48.5,"s":"dip-6, atm5","g":"k1"},{"t":7.04,"v":49.11,"s":"dip-6, atm5","g":"k1"},{"t":7.38,"v":48.77,"s":"dip-6, atm5","g":"k1"},{"t":7.75,"v":48.31,"s":"dip-6, atm5","g":"k1"},{"t":8.02,"v":47.76,"s":"dip-6, atm5","g":"k1"},{"t":8.24,"v":46.96,"s":"dip-6, atm5","g":"k1"},{"t":8.43,"v":47.66,"s":"dip-6, atm5","g":"k1"},{"t":8.69,"v":48.59,"s":"dip-6, atm5","g":"k1"},{"t":8.88,"v":48.74,"s":"dip-6, atm5","g":"k1"},{"t":9.14,"v":48.55,"s":"dip-6, atm5","g":"k1"},{"t":9.44,"v":47.94,"s":"dip-6, atm5","g":"k1"},{"t":9.74,"v":47.48,"s":"dip-6, atm5","g":"k1"},{"t":9.92,"v":47.85,"s":"dip-6, atm5","g":"k1"},{"t":10.19,"v":47.11,"s":"dip-6, atm5","g":"k1"},{"t":10.37,"v":46.09,"s":"dip-6, atm5","g":"k1"},{"t":10.64,"v":47.66,"s":"dip-6, atm5","g":"k1"},{"t":10.87,"v":47.94,"s":"dip-6, atm5","g":"k1"},{"t":11.05,"v":48.96,"s":"dip-6, atm5","g":"k1"},{"t":11.31,"v":48.5,"s":"dip-6, atm5","g":"k1"},{"t":11.61,"v":47.85,"s":"dip-6, atm5","g":"k1"},{"t":11.88,"v":47.3,"s":"dip-6, atm5","g":"k1"},{"t":12.06,"v":47.02,"s":"dip-6, atm5","g":"k1"},{"t":12.25,"v":45.44,"s":"dip-6, atm5","g":"k1"},{"t":12.44,"v":46.55,"s":"dip-6, atm5","g":"k1"},{"t":12.62,"v":47.3,"s":"dip-6, atm5","g":"k1"},{"t":12.81,"v":48.41,"s":"dip-6, atm5","g":"k1"},{"t":13.07,"v":48.96,"s":"dip-6, atm5","g":"k1"},{"t":13.18,"v":48.87,"s":"dip-6, atm5","g":"k1"},{"t":13.56,"v":48.41,"s":"dip-6, atm5","g":"k1"},{"t":13.93,"v":47.94,"s":"dip-6, atm5","g":"k1"},{"t":14.24,"v":46.8,"s":"dip-6, atm5","g":"k1"},{"t":14.40,"v":45.3,"s":"dip-6, atm5","g":"k1"},{"t":14.87,"v":46.8,"s":"dip-6, atm5","g":"k1"},{"t":15.24,"v":47.48,"s":"dip-6, atm5","g":"k1"},{"t":15.62,"v":47.76,"s":"dip-6, atm5","g":"k1"},{"t":16.00,"v":47.85,"s":"dip-6, atm5","g":"k1"},{"t":16.37,"v":47.94,"s":"dip-6, atm5","g":"k1"},{"t":16.66,"v":47.85,"s":"dip-6, atm5","g":"k1"},{"t":16.98,"v":47.94,"s":"dip-6, atm5","g":"k1"},{"t":17.33,"v":48.03,"s":"dip-6, atm5","g":"k1"},{"t":17.72,"v":47.85,"s":"dip-6, atm5","g":"k1"},{"t":18.10,"v":48.13,"s":"dip-6, atm5","g":"k1"},{"t":18.47,"v":48.22,"s":"dip-6, atm5","g":"k1"},{"t":18.84,"v":47.94,"s":"dip-6, atm5","g":"k1"},{"t":19.22,"v":47.85,"s":"dip-6, atm5","g":"k1"},{"t":19.60,"v":47.66,"s":"dip-6, atm5","g":"k1"},{"t":20.17,"v":47.76,"s":"dip-6, atm5","g":"k1"},{"t":20.73,"v":47.66,"s":"dip-6, atm5","g":"k1"},{"t":21.24,"v":47.66,"s":"dip-6, atm5","g":"k1"},{"t":21.80,"v":47.48,"s":"dip-6, atm5","g":"k1"},{"t":22.36,"v":48.03,"s":"dip-6, atm5","g":"k1"},{"t":22.73,"v":48.31,"s":"dip-6, atm5","g":"k1"},{"t":23.11,"v":48.22,"s":"dip-6, atm5","g":"k1"},{"t":23.67,"v":47.85,"s":"dip-6, atm5","g":"k1"},{"t":24.23,"v":47.85,"s":"dip-6, atm5","g":"k1"},{"t":24.80,"v":48.03,"s":"dip-6, atm5","g":"k1"},{"t":25.36,"v":48.31,"s":"dip-6, atm5","g":"k1"},{"t":25.92,"v":48.13,"s":"dip-6, atm5","g":"k1"},{"t":26.48,"v":48.03,"s":"dip-6, atm5","g":"k1"},{"t":27.04,"v":48.13,"s":"dip-6, atm5","g":"k1"},{"t":27.60,"v":48.07,"s":"dip-6, atm5","g":"k1"},{"t":28.17,"v":48.03,"s":"dip-6, atm5","g":"k1"},{"t":28.73,"v":47.94,"s":"dip-6, atm5","g":"k1"},{"t":29.21,"v":47.76,"s":"dip-6, atm5","g":"k1"},{"t":29.47,"v":47.48,"s":"dip-6, atm5","g":"k1"},{"t":29.85,"v":47.76,"s":"dip-6, atm5","g":"k1"},{"t":30.42,"v":47.94,"s":"dip-6, atm5","g":"k1"},{"t":30.60,"v":48.13,"s":"dip-6, atm5","g":"k1"},{"t":31.16,"v":48.13,"s":"dip-6, atm5","g":"k1"},{"t":31.80,"v":47.66,"s":"dip-6, atm5","g":"k1"},{"t":32.10,"v":47.85,"s":"dip-6, atm5","g":"k1"},{"t":32.66,"v":48.03,"s":"dip-6, atm5","g":"k1"},{"t":33.40,"v":48.07,"s":"dip-6, atm5","g":"k1"},{"t":33.97,"v":48.03,"s":"dip-6, atm5","g":"k1"},{"t":34.53,"v":48.26,"s":"dip-6, atm5","g":"k1"},{"t":35.09,"v":48.22,"s":"dip-6, atm5","g":"k1"},{"t":35.84,"v":48.13,"s":"dip-6, atm5","g":"k1"},{"t":36.59,"v":48.03,"s":"dip-6, atm5","g":"k1"},{"t":37.34,"v":48.13,"s":"dip-6, atm5","g":"k1"},{"t":38.09,"v":48.22,"s":"dip-6, atm5","g":"k1"},{"t":38.84,"v":48.31,"s":"dip-6, atm5","g":"k1"},{"t":39.58,"v":48.22,"s":"dip-6, atm5","g":"k1"},{"t":40.00,"v":48.13,"s":"dip-6, atm5","g":"k1"}
]
},
"spacing": 10,
"vconcat": [
{
 "width": 356, "height": 169,
 "data": {"name": "top"},
 "layer": [
  {
   "mark": {"type": "line", "strokeWidth": 2, "clip": true},
   "encoding": {
    "x": {"field": "t", "type": "quantitative", "scale": {"domain": [0, 40], "nice": false}, "axis": {"orient": "bottom", "labels": false, "title": null, "values": [0,5,10,15,20,25,30,35,40]}},
    "y": {"field": "v", "type": "quantitative", "scale": {"domain": [43.6, 49.42], "nice": false, "zero": false}, "axis": {"title": "log(L_EM) [erg/s]", "values": [44,45,46,47,48,49], "labelPadding": 8, "minExtent": 15, "maxExtent": 15, "titlePadding": 4}},
    "color": {"field": "s", "type": "nominal", "scale": {"domain": ["dip-6", "dip-60 rescaled"], "range": ["#0000ff", "#ff0000"]}, "legend": {"title": null, "orient": "none", "legendX": 249, "legendY": 122, "encode": {"labels": {"update": {"fontSize": {"signal": "datum.label === 'dip-60 rescaled' ? 8.5 : 10"}}}}}},
    "detail": {"field": "g", "type": "nominal"}
   }
  },
  {
   "mark": {"type": "line", "strokeOpacity": 0, "clip": true},
   "encoding": {
    "x": {"field": "t", "type": "quantitative", "scale": {"domain": [0, 40], "nice": false}, "axis": {"orient": "top", "labels": false, "title": null, "values": [0,5,10,15,20,25,30,35,40]}},
    "y": {"field": "v", "type": "quantitative", "scale": {"domain": [43.6, 49.42], "nice": false, "zero": false}, "axis": {"orient": "right", "labels": false, "title": null, "values": [44,45,46,47,48,49]}}
   }
  }
 ],
 "resolve": {"axis": {"x": "independent", "y": "independent"}}
},
{
 "width": 356, "height": 167,
 "data": {"name": "bot"},
 "layer": [
  {
   "mark": {"type": "line", "strokeWidth": 2, "clip": true},
   "encoding": {
    "x": {"field": "t", "type": "quantitative", "scale": {"domain": [0, 40], "nice": false}, "axis": {"orient": "bottom", "title": "time [ms]", "values": [0,5,10,15,20,25,30,35,40], "labelPadding": 2, "titlePadding": 3}},
    "y": {"field": "v", "type": "quantitative", "scale": {"domain": [41.15, 50.44], "nice": false, "zero": false}, "axis": {"title": "log(L_EM) [erg/s]", "values": [42,44,46,48,50], "labelPadding": 8, "minExtent": 15, "maxExtent": 15, "titlePadding": 4}},
    "color": {"field": "s", "type": "nominal", "scale": {"domain": ["dip-6", "dip-6, 1.2 h", "dip-6, 1.5 h", "dip-6, atm5"], "range": ["#ff0000", "#0000ff", "#008000", "#000000"]}, "legend": {"title": null, "orient": "none", "legendX": 249, "legendY": 100}},
    "strokeDash": {"field": "s", "type": "nominal", "scale": {"domain": ["dip-6", "dip-6, 1.2 h", "dip-6, 1.5 h", "dip-6, atm5"], "range": [[1,0],[1,0],[1,0],[6,4]]}, "legend": {"title": null, "orient": "none", "legendX": 249, "legendY": 100}},
    "detail": {"field": "g", "type": "nominal"}
   }
  },
  {
   "mark": {"type": "line", "strokeOpacity": 0, "clip": true},
   "encoding": {
    "x": {"field": "t", "type": "quantitative", "scale": {"domain": [0, 40], "nice": false}, "axis": {"orient": "top", "labels": false, "title": null, "values": [0,5,10,15,20,25,30,35,40]}},
    "y": {"field": "v", "type": "quantitative", "scale": {"domain": [41.15, 50.44], "nice": false, "zero": false}, "axis": {"orient": "right", "labels": false, "title": null, "values": [42,44,46,48,50]}}
   }
  }
 ],
 "resolve": {"axis": {"x": "independent", "y": "independent"}}
}
],
"resolve": {"scale": {"color": "independent", "strokeDash": "independent"}, "legend": {"color": "independent", "strokeDash": "independent"}}
}
